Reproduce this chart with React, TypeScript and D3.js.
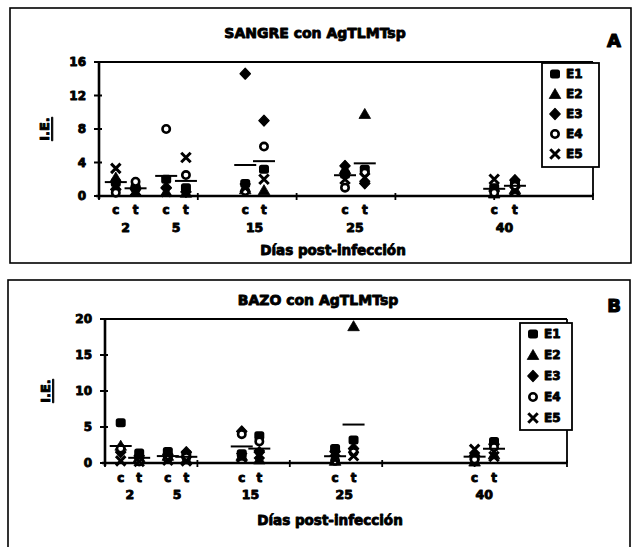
import React from "react";
import * as d3 from "d3";

// ---------- data ----------
const days = ["2", "5", "15", "25", "40"];
const seriesNames = ["E1", "E2", "E3", "E4", "E5"];
// axis positions (x units) of the control (c) and treated (t) columns of each day
const controlPos = [1.7, 6.8, 14.8, 24.9, 40.0];
const treatedPos = [3.7, 8.8, 16.7, 26.9, 42.1];
const xTicks = [0, 10, 20, 30, 40, 50];
const sangreTicks = [0, 4, 8, 12, 16];
const bazoTicks = [0, 5, 10, 15, 20];

// SANGRE (blood) — rows: E1..E5, cols: days 2,5,15,25,40
const sangreControl = [
  [1.6, 2.0, 1.5, 2.6, 1.0],
  [2.2, 0.5, 0.8, 3.2, 0.3],
  [0.8, 1.0, 14.6, 3.6, 0.6],
  [0.4, 8.0, 0.6, 1.0, 0.4],
  [3.3, 0.5, 1.0, 2.0, 2.0],
];
const sangreTreated = [
  [1.0, 1.0, 3.2, 3.2, 1.6],
  [0.5, 0.4, 0.7, 9.8, 0.8],
  [0.8, 0.5, 9.0, 1.5, 1.9],
  [1.7, 2.5, 5.9, 2.8, 1.2],
  [0.6, 4.6, 2.0, 2.2, 0.6],
];
// BAZO (spleen)
const bazoControl = [
  [5.6, 1.6, 1.3, 2.0, 0.8],
  [2.4, 1.0, 1.0, 0.3, 0.2],
  [1.5, 1.2, 4.4, 1.6, 1.0],
  [2.0, 0.6, 4.0, 0.3, 0.5],
  [0.3, 0.4, 0.8, 0.5, 1.9],
];
const bazoTreated = [
  [1.4, 1.2, 3.8, 3.2, 3.0],
  [0.8, 0.5, 0.5, 19.0, 1.2],
  [1.0, 1.5, 1.5, 2.0, 2.6],
  [0.2, 0.8, 3.0, 1.5, 2.2],
  [0.2, 0.3, 1.2, 1.0, 0.9],
];

// ---------- drawing ----------
const FONT = "'DejaVu Sans', Arial, sans-serif";
const boldText = { fontFamily: FONT, fontWeight: 700, stroke: "#000", strokeWidth: 0.9, strokeLinejoin: "round" } as const;

const diamondPath = "M0,-5.5L5.2,0L0,5.5L-5.2,0Z";
const trianglePath = "M0,-5.5L5.8,4.5L-5.8,4.5Z";

function Marker({ kind, x, y }: { kind: number; x: number; y: number }) {
  switch (kind) {
    case 0:
      return <rect x={x - 5} y={y - 4.5} width={10} height={9} rx={2.5} fill="#000" />;
    case 1:
      return <path d={trianglePath} transform={`translate(${x},${y})`} fill="#000" stroke="#000" strokeWidth={0.8} strokeLinejoin="round" />;
    case 2:
      return <path d={diamondPath} transform={`translate(${x},${y})`} fill="#000" stroke="#000" strokeWidth={1.2} strokeLinejoin="round" />;
    case 3:
      return <circle cx={x} cy={y} r={3.7} fill="#fff" stroke="#000" strokeWidth={2.6} />;
    default:
      return <path d={d3.symbol(d3.symbolTimes, 60)()!} transform={`translate(${x},${y})`} fill="none" stroke="#000" strokeWidth={3} />;
  }
}

type PanelProps = {
  frame: { x: number; y: number; w: number; h: number };
  plot: { l: number; t: number; r: number; b: number };
  yMax: number;
  yTicks: number[];
  title: string;
  titleX: number;
  titleY: number;
  letter: string;
  letterX: number;
  letterY: number;
  yLabelX: number;
  legend: { x: number; y: number; w: number; h: number; step: number };
  ctY: number;
  numY: number;
  xLabelX: number;
  xLabelY: number;
  control: number[][];
  treated: number[][];
};

function Panel(p: PanelProps) {
  const x = d3.scaleLinear().domain([0, 50]).range([p.plot.l, p.plot.r]);
  const y = d3.scaleLinear().domain([0, p.yMax]).range([p.plot.b, p.plot.t]);
  const meanHalf = 11;
  return (
    <g>
      <rect x={p.frame.x} y={p.frame.y} width={p.frame.w} height={p.frame.h} fill="#fff" stroke="#000" strokeWidth={1.6} />
      <text x={p.titleX} y={p.titleY} textAnchor="middle" dominantBaseline="central" fontSize={14} {...boldText}>{p.title}</text>
      <text x={p.letterX} y={p.letterY} textAnchor="middle" dominantBaseline="central" fontSize={18} {...boldText} strokeWidth={1.2}>{p.letter}</text>
      <text transform={`translate(${p.yLabelX},${(p.plot.t + p.plot.b) / 2}) rotate(-90)`} textAnchor="middle" dominantBaseline="central" fontSize={13} {...boldText} textDecoration="underline">I.E.</text>

      {/* plot border */}
      <line x1={p.plot.l} x2={p.plot.r} y1={p.plot.t} y2={p.plot.t} stroke="#000" strokeWidth={1.8} />
      <line x1={p.plot.r} x2={p.plot.r} y1={p.plot.t} y2={p.plot.b} stroke="#000" strokeWidth={1.8} />
      {/* y axis */}
      <line x1={p.plot.l} x2={p.plot.l} y1={p.plot.t} y2={p.plot.b + 3} stroke="#000" strokeWidth={2.6} />
      {p.yTicks.map((t) => (
        <g key={"y" + t}>
          <line x1={p.plot.l - 5} x2={p.plot.l + 3} y1={y(t)} y2={y(t)} stroke="#000" strokeWidth={2} />
          <text x={p.plot.l - 13} y={y(t)} textAnchor="end" dominantBaseline="central" fontSize={12} {...boldText}>{t}</text>
        </g>
      ))}
      {/* x axis */}
      <line x1={p.plot.l - 3} x2={p.plot.r} y1={p.plot.b} y2={p.plot.b} stroke="#000" strokeWidth={2.6} />
      {xTicks.map((t) => (
        <line key={"x" + t} x1={x(t)} x2={x(t)} y1={p.plot.b - 3} y2={p.plot.b + 4} stroke="#000" strokeWidth={1.8} />
      ))}
      {days.map((d, i) => (
        <g key={"d" + d}>
          <text x={x(controlPos[i])} y={p.ctY} textAnchor="middle" dominantBaseline="central" fontSize={12} {...boldText}>c</text>
          <text x={x(treatedPos[i])} y={p.ctY} textAnchor="middle" dominantBaseline="central" fontSize={12} {...boldText}>t</text>
          <text x={(x(controlPos[i]) + x(treatedPos[i])) / 2} y={p.numY} textAnchor="middle" dominantBaseline="central" fontSize={12.5} {...boldText}>{d}</text>
        </g>
      ))}
      <text x={p.xLabelX} y={p.xLabelY} textAnchor="middle" dominantBaseline="central" fontSize={13.5} {...boldText}>Días post-infección</text>

      {/* points */}
      {seriesNames.map((s, si) => (
        <g key={s}>
          {p.control[si].map((v, di) => <Marker key={"c" + di} kind={si} x={x(controlPos[di])} y={y(v)} />)}
          {p.treated[si].map((v, di) => <Marker key={"t" + di} kind={si} x={x(treatedPos[di])} y={y(v)} />)}
        </g>
      ))}
      {/* mean lines */}
      {days.map((d, di) => {
        const mc = d3.mean(p.control, (row) => row[di])!;
        const mt = d3.mean(p.treated, (row) => row[di])!;
        return (
          <g key={"m" + d}>
            <line x1={x(controlPos[di]) - meanHalf} x2={x(controlPos[di]) + meanHalf} y1={y(mc)} y2={y(mc)} stroke="#000" strokeWidth={2} />
            <line x1={x(treatedPos[di]) - meanHalf} x2={x(treatedPos[di]) + meanHalf} y1={y(mt)} y2={y(mt)} stroke="#000" strokeWidth={2} />
          </g>
        );
      })}

      {/* legend */}
      <rect x={p.legend.x} y={p.legend.y} width={p.legend.w} height={p.legend.h} fill="#fff" stroke="#000" strokeWidth={1.8} />
      {seriesNames.map((s, si) => {
        const ly = p.legend.y + 11 + si * p.legend.step;
        return (
          <g key={"l" + s}>
            <Marker kind={si} x={p.legend.x + 13} y={ly} />
            <text x={p.legend.x + 24} y={ly} dominantBaseline="central" fontSize={12} {...boldText}>{s}</text>
          </g>
        );
      })}
    </g>
  );
}

export default function App() {
  return (
    <svg width={633} height={547} style={{ position: "absolute", left: 0, top: 0, background: "#fff" }}>
      <rect x={0} y={0} width={633} height={547} fill="#fff" />
      <Panel
        frame={{ x: 10, y: 8, w: 621, h: 255 }}
        plot={{ l: 99, t: 62, r: 593, b: 196 }}
        yMax={16}
        yTicks={sangreTicks}
        title="SANGRE con AgTLMTsp"
        titleX={315}
        titleY={33}
        letter="A"
        letterX={614}
        letterY={40}
        yLabelX={44}
        legend={{ x: 542, y: 63, w: 57, h: 104, step: 20 }}
        ctY={210}
        numY={227}
        xLabelX={333}
        xLabelY={250}
        control={sangreControl}
        treated={sangreTreated}
      />
      <Panel
        frame={{ x: 8, y: 280, w: 622, h: 290 }}
        plot={{ l: 105, t: 319, r: 567, b: 463 }}
        yMax={20}
        yTicks={bazoTicks}
        title="BAZO con AgTLMTsp"
        titleX={318}
        titleY={300}
        letter="B"
        letterX={614}
        letterY={305}
        yLabelX={45}
        legend={{ x: 520, y: 323, w: 52, h: 107, step: 21 }}
        ctY={478}
        numY={494}
        xLabelX={330}
        xLabelY={520}
        control={bazoControl}
        treated={bazoTreated}
      />
    </svg>
  );
}
